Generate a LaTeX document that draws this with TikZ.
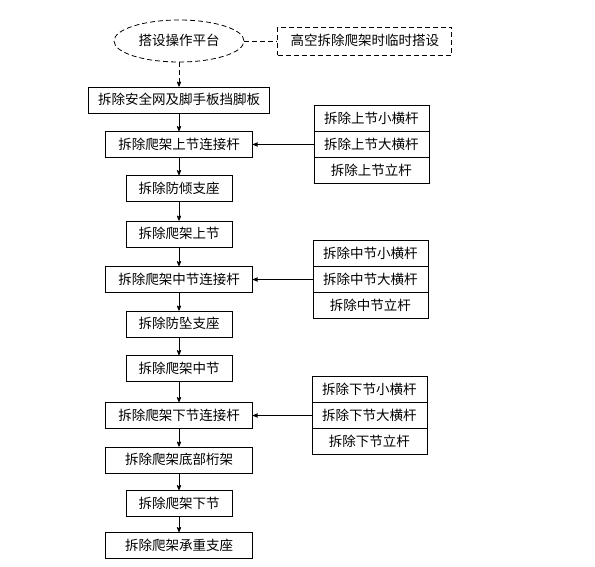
\documentclass[tikz,border=0pt]{standalone}
\usepackage{fontspec}
\newfontfamily\cjk{Noto Sans CJK SC}
\usetikzlibrary{positioning,arrows,shapes.geometric}

\begin{document}
\begin{tikzpicture}[->,>=stealth',thick,node distance=17.7pt,
  box/.style={rectangle,draw,minimum height=26pt,inner xsep=8pt,text height=11.5pt,text depth=2pt,font={\cjk\fontsize{13.5pt}{16pt}\selectfont}},
  short/.style={box,minimum width=106pt},
  long/.style={box,minimum width=147pt},
  bar/.style={box,minimum width=115pt,outer sep=0pt},
  dash line/.style={dash pattern=on 5pt off 3pt}]
   \useasboundingbox (0,0) rectangle (595pt,-567pt);
   \node[box,ellipse,dash line,minimum width=130pt,minimum height=42pt,inner sep=0pt] (top) at (179pt,-41pt) {搭设操作平台};
   \node[box,dash line,minimum width=174pt,minimum height=28pt] (tmp) [right=33pt of top] {高空拆除爬架时临时搭设};
   \node[box,minimum width=181pt] (n_1) [below=24.2pt of top] {拆除安全网及脚手板挡脚板};
   \node[long] (n_2) [below=of n_1] {拆除爬架上节连接杆};
   \node[short] (n_3) [below=17.2pt of n_2] {拆除防倾支座};
   \node[short] (n_4) [below=18.7pt of n_3] {拆除爬架上节};
   \node[long] (n_5) [below=18.7pt of n_4] {拆除爬架中节连接杆};
   \node[short] (n_6) [below=of n_5] {拆除防坠支座};
   \node[short] (n_7) [below=of n_6] {拆除爬架中节};
   \node[long] (n_8) [below=20.2pt of n_7] {拆除爬架下节连接杆};
   \node[long] (n_9) [below=of n_8] {拆除爬架底部桁架};
   \node[short] (n_10) [below=16.7pt of n_9] {拆除爬架下节};
   \node[long] (n_11) [below=15.2pt of n_10] {拆除爬架承重支座};
   % upper section bars
   \node[bar] (u_2) [right=61pt of n_2] {拆除上节大横杆};
   \node[bar] (u_1) [above=0pt of u_2] {拆除上节小横杆};
   \node[bar] (u_3) [below=0pt of u_2] {拆除上节立杆};
   % middle section bars
   \node[bar] (m_2) [right=60pt of n_5] {拆除中节大横杆};
   \node[bar] (m_1) [above=0pt of m_2] {拆除中节小横杆};
   \node[bar] (m_3) [below=0pt of m_2] {拆除中节立杆};
   % lower section bars
   \node[bar] (l_2) [right=59pt of n_8] {拆除下节大横杆};
   \node[bar] (l_1) [above=0pt of l_2] {拆除下节小横杆};
   \node[bar] (l_3) [below=0pt of l_2] {拆除下节立杆};
    \path[->]
    (top) edge [-,dash line] (tmp)
          edge [dash line] (n_1)
    (n_1) edge (n_2)
    (n_2) edge (n_3)
    (n_3) edge (n_4)
    (n_4) edge (n_5)
    (n_5) edge (n_6)
    (n_6) edge (n_7)
    (n_7) edge (n_8)
    (n_8) edge (n_9)
    (n_9) edge (n_10)
    (n_10) edge (n_11)
    (u_2) edge (n_2)
    (m_2) edge (n_5)
    (l_2) edge (n_8);
\end{tikzpicture}
\end{document}
